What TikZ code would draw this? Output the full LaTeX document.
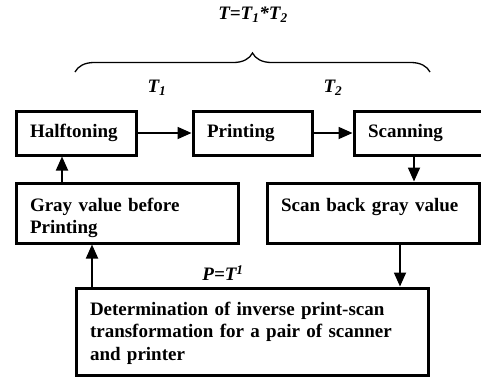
\documentclass[tikz,border=0pt]{standalone}
\usepackage{fontspec}
\setmainfont{Liberation Serif}
\usetikzlibrary{arrows.meta,decorations.pathreplacing}

\begin{document}
\begin{tikzpicture}[x=1pt,y=1pt]
	\tikzstyle{every node}+=[font=\fontsize{19pt}{22.5pt}\selectfont\bfseries]
	\tikzstyle{block}=[draw,line width=3pt,inner xsep=14pt,inner ysep=0pt,align=left,minimum height=44pt]
	\tikzstyle{flow}=[line width=1.8pt,-{Triangle[length=14pt,width=12pt]}]
	\tikzstyle{lab}=[font=\fontsize{19pt}{22.5pt}\selectfont\bfseries\itshape,inner sep=0pt]
	\useasboundingbox (0,0) rectangle (481,-378);
	\draw (253,-15) node[lab] (tt) {T=T\textsubscript{1}*T\textsubscript{2}};
	\draw[line width=1.3pt,decorate,decoration={brace,amplitude=19pt}] (75,-72) -- (430,-72);
	\draw (157,-88) node[lab] (t1) {T\textsubscript{1}};
	\draw (333,-88) node[lab] (t2) {T\textsubscript{2}};
	\draw (76,-133) node[block,text width=92pt] (half) {Halftoning};
	\draw (252.5,-133) node[block,text width=91pt] (print) {Printing};
	\draw (427,-133) node[block,text width=118pt] (scan) {Scanning};
	\draw (127,-213) node[block,text width=194pt,minimum height=60pt,text height=23pt,text depth=26.6pt] (gray) {Gray value before\\Printing};
	\draw (373,-213) node[block,text width=184pt,minimum height=60pt,text height=23pt,text depth=26.6pt] (back) {Scan back gray value};
	\draw (252,-331.5) node[block,text width=324pt,minimum height=87pt,text height=17pt] (det) {Determination of inverse print-scan\\transformation for a pair of scanner\\and printer};
	\draw (223,-273) node[lab] (inv) {P=T\textsuperscript{1}};
	\draw[flow] (half) -- (print);
	\draw[flow] (print) -- (scan);
	\draw[flow] ([xshift=-13pt]scan.south) -- ([xshift=-13pt]scan.south |- back.north);
	\draw[flow] ([xshift=-65pt]gray.north) -- ([xshift=-65pt]gray.north |- half.south);
	\draw[flow] ([xshift=-160pt]det.north) -- ([xshift=-160pt]det.north |- gray.south);
	\draw[flow] ([xshift=27pt]back.south) -- ([xshift=27pt]back.south |- det.north);
\end{tikzpicture}
\end{document}
